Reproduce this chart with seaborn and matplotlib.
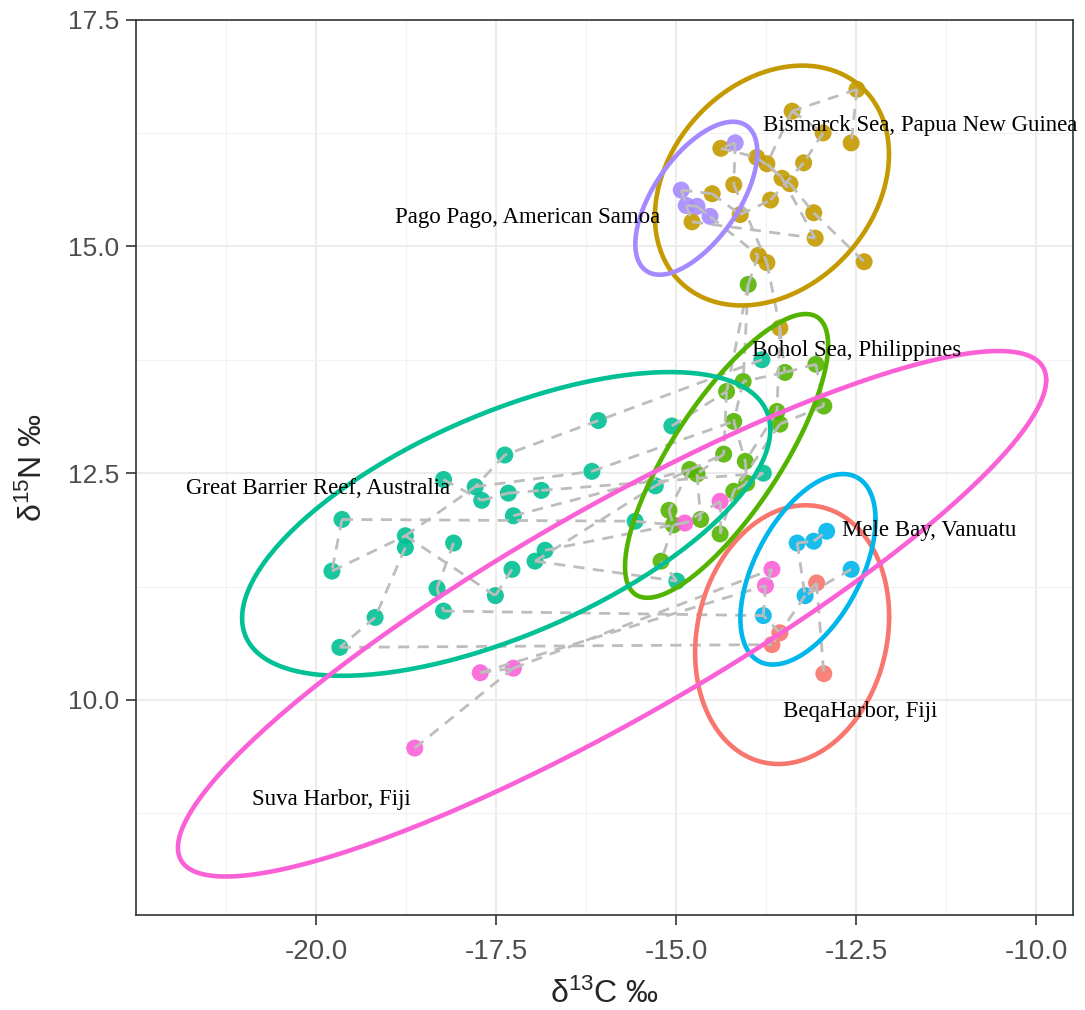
import numpy as np
import pandas as pd
import matplotlib
matplotlib.use("Agg")
import matplotlib.pyplot as plt
from matplotlib.ticker import MultipleLocator, FixedLocator, FormatStrFormatter
import seaborn as sns

# ---------------------------------------------------------------- data
sites = ["BeqaHarbor, Fiji", "Bismarck Sea, Papua New Guinea",
         "Bohol Sea, Philippines", "Great Barrier Reef, Australia",
         "Mele Bay, Vanuatu", "Pago Pago, American Samoa", "Suva Harbor, Fiji"]
site_codes = ["R", "G", "B", "T", "M", "P", "S"]
palette = ["#F8766D", "#C49A00", "#53B400", "#00C094",
           "#00B6EB", "#A58AFF", "#FB61D7"]

beqa_c13 = [-13.05, -13.56, -13.67, -12.95]
beqa_n15 = [11.29, 10.74, 10.61, 10.29]

bismarck_c13 = [-12.49, -13.39, -12.96, -12.57, -14.38, -13.88, -13.74,
                -13.23, -13.53, -13.42, -14.20, -14.50, -13.69, -13.09,
                -14.11, -14.78, -13.07, -13.86, -13.74, -12.39, -13.56]
bismarck_n15 = [16.73, 16.49, 16.25, 16.14, 16.08, 15.98, 15.91,
                15.92, 15.75, 15.69, 15.68, 15.58, 15.51, 15.37,
                15.35, 15.27, 15.09, 14.90, 14.82, 14.83, 14.10]

bohol_c13 = [-14.00, -13.06, -13.49, -14.07, -14.30, -12.95, -13.60,
             -13.56, -14.20, -14.34, -14.04, -14.81, -14.71, -14.02,
             -14.20, -15.10, -15.04, -14.66, -14.39, -15.21]
bohol_n15 = [14.58, 13.70, 13.61, 13.51, 13.40, 13.24, 13.18,
             13.04, 13.07, 12.71, 12.63, 12.54, 12.49, 12.39,
             12.30, 12.09, 11.93, 11.99, 11.83, 11.53]

gbr_c13 = [-13.81, -16.08, -15.06, -16.17, -15.29, -13.79, -15.57,
           -14.99, -17.38, -18.23, -17.79, -17.70, -17.33, -16.87,
           -19.64, -17.26, -18.76, -18.76, -18.09, -16.82, -16.96,
           -17.28, -19.78, -18.32, -17.51, -19.18, -18.23, -19.67]
gbr_n15 = [13.75, 13.08, 13.02, 12.52, 12.36, 12.50, 11.97,
           11.31, 12.70, 12.43, 12.35, 12.20, 12.28, 12.31,
           11.99, 12.03, 11.81, 11.68, 11.73, 11.65, 11.53,
           11.44, 11.42, 11.23, 11.15, 10.91, 10.98, 10.58]

mele_c13 = [-13.32, -13.09, -12.91, -12.57, -13.21, -13.79]
mele_n15 = [11.73, 11.75, 11.86, 11.44, 11.15, 10.93]

pago_c13 = [-14.18, -14.93, -14.86, -14.71, -14.53]
pago_n15 = [16.14, 15.62, 15.45, 15.44, 15.33]

suva_c13 = [-18.63, -17.72, -17.26, -14.39, -14.88, -13.67, -13.76]
suva_n15 = [9.47, 10.30, 10.35, 12.19, 11.95, 11.44, 11.26]

site_c13 = [beqa_c13, bismarck_c13, bohol_c13, gbr_c13, mele_c13, pago_c13, suva_c13]
site_n15 = [beqa_n15, bismarck_n15, bohol_n15, gbr_n15, mele_n15, pago_n15, suva_n15]

# pairs of samples joined by dashed connectors
links = [
    ("P1", "G5"), ("P1", "G11"), ("P2", "P3"), ("P3", "P4"), ("P4", "P5"),
    ("P2", "G12"), ("P5", "G18"), ("P3", "G16"), ("G5", "G6"), ("G6", "G10"),
    ("G2", "G3"), ("G2", "G7"), ("G1", "G4"), ("G1", "G2"), ("G3", "G8"),
    ("G8", "G13"), ("G9", "G17"), ("G10", "G14"), ("G14", "G20"),
    ("G11", "G19"), ("G12", "G15"), ("G15", "G13"), ("G16", "G17"),
    ("G7", "G9"),
    ("G18", "B1"), ("G19", "G21"), ("B1", "B5"), ("B1", "B4"), ("G21", "B3"),
    ("G21", "B7"),
    ("B2", "B3"), ("B3", "B4"), ("B6", "B8"), ("B5", "B10"), ("B4", "B9"),
    ("B9", "B11"), ("B10", "B13"), ("B12", "B16"), ("B13", "B18"),
    ("B14", "B15"), ("B15", "B19"), ("B16", "B17"), ("B17", "B20"),
    ("B11", "B14"), ("B7", "B11"), ("B8", "B15"), ("B2", "B6"),
    ("T1", "T2"), ("T2", "T9"), ("T9", "T11"), ("T11", "T4"), ("T10", "T12"),
    ("T12", "T13"), ("T13", "T14"), ("T15", "T23"), ("T15", "T7"),
    ("T23", "T17"), ("T18", "T26"), ("T26", "T28"), ("T17", "T11"),
    ("T17", "T25"), ("T19", "T24"), ("T22", "T25"), ("T21", "T5"),
    ("T16", "B12"), ("T20", "B18"), ("T21", "T8"), ("T3", "B5"),
    ("T5", "B10"), ("T6", "B14"), ("T7", "B17"), ("T8", "B20"),
    ("T24", "T27"), ("T14", "T6"), ("T4", "B9"),
    ("S1", "S3"), ("S2", "S3"), ("S3", "S6"), ("S2", "S7"), ("S6", "S7"),
    ("S4", "S5"), ("S4", "B19"), ("S5", "B17"), ("S7", "M6"), ("T28", "R3"),
    ("T27", "M6"), ("M1", "M2"), ("M2", "M3"), ("M1", "M5"), ("M4", "M5"),
    ("R1", "M5"), ("R1", "R4"), ("R2", "R3"), ("R2", "M6"), ("M5", "R2"),
]

# 95% ellipse per site: centre, half-extent along each axis, correlation
ell_cx = [-13.39, -13.67, -14.30, -17.36, -13.17, -14.72, -15.89]
ell_cy = [10.72, 15.67, 12.69, 11.94, 11.44, 15.53, 10.95]
ell_hx = [1.347, 1.625, 1.410, 3.667, 0.938, 0.847, 6.028]
ell_hy = [1.426, 1.322, 1.564, 1.674, 1.050, 0.843, 2.896]
ell_r = [0.14, 0.26, 0.78, 0.62, 0.52, 0.60, 0.89]

# site name annotations (centre of each label)
label_x = [-12.44, -11.61, -12.50, -19.97, -11.49, -17.06, -19.79]
label_y = [9.87, 16.33, 13.85, 12.33, 11.87, 15.32, 8.90]

x_ticks = [-20.0, -17.5, -15.0, -12.5, -10.0]
y_ticks = [10.0, 12.5, 15.0, 17.5]

# ---------------------------------------------------------------- frames
rows = []
for site, code, xs, ys in zip(sites, site_codes, site_c13, site_n15):
    for i, (x, y) in enumerate(zip(xs, ys), start=1):
        rows.append({"site": site, "id": f"{code}{i}", "d13C": x, "d15N": y})
pts = pd.DataFrame(rows)
lookup = pts.set_index("id")

seg_rows = []
for k, (a, b) in enumerate(links):
    for p in (a, b):
        seg_rows.append({"link": k, "d13C": lookup.loc[p, "d13C"],
                         "d15N": lookup.loc[p, "d15N"]})
segs = pd.DataFrame(seg_rows)

t = np.linspace(0, 2 * np.pi, 240)
ell_rows = []
for site, cx, cy, hx, hy, r in zip(sites, ell_cx, ell_cy, ell_hx, ell_hy, ell_r):
    ex = cx + hx * np.cos(t)
    ey = cy + r * hy * np.cos(t) + hy * np.sqrt(1 - r ** 2) * np.sin(t)
    ell_rows.append(pd.DataFrame({"site": site, "d13C": ex, "d15N": ey}))
ells = pd.concat(ell_rows, ignore_index=True)

# ---------------------------------------------------------------- plot
sns.set_theme(style="white")
plt.rcParams["font.family"] = ["Liberation Sans", "DejaVu Sans"]
plt.rcParams["mathtext.default"] = "regular"

fig = plt.figure(figsize=(10.85, 10.10), dpi=100)
ax = fig.add_axes([136 / 1085, 95 / 1010, 937 / 1085, 895.5 / 1010])

pal = dict(zip(sites, palette))

sns.scatterplot(data=pts, x="d13C", y="d15N", hue="site", palette=pal,
                s=150, alpha=0.9, linewidth=0, legend=False, ax=ax, zorder=3)
sns.lineplot(data=segs, x="d13C", y="d15N", units="link", estimator=None,
             sort=False, color="#BDBDBD", linewidth=2.0,
             linestyle=(0, (4, 3)), legend=False, ax=ax, zorder=4)
sns.lineplot(data=ells, x="d13C", y="d15N", hue="site", units="site",
             estimator=None, sort=False, palette=pal, linewidth=3.3,
             legend=False, ax=ax, zorder=5)

for name, x, y in zip(sites, label_x, label_y):
    ax.text(x, y, name, ha="center", va="center", fontsize=16.5,
            family=["Liberation Serif", "DejaVu Serif"], color="black", zorder=6)

ax.set_xlim(-22.5, -9.49)
ax.set_ylim(7.63, 17.5)
ax.xaxis.set_major_locator(FixedLocator(x_ticks))
ax.yaxis.set_major_locator(FixedLocator(y_ticks))
ax.xaxis.set_minor_locator(FixedLocator([-21.25, -18.75, -16.25, -13.75, -11.25]))
ax.yaxis.set_minor_locator(FixedLocator([8.75, 11.25, 13.75, 16.25]))
ax.xaxis.set_major_formatter(FormatStrFormatter("%.1f"))
ax.yaxis.set_major_formatter(FormatStrFormatter("%.1f"))

ax.set_axisbelow(True)
ax.grid(which="major", color="#EBEBEB", linewidth=1.3)
ax.grid(which="minor", color="#F2F2F2", linewidth=0.8)
for sp in ax.spines.values():
    sp.set_color("#333333")
    sp.set_linewidth(1.2)
ax.tick_params(which="major", direction="out", length=7, width=1.2,
               color="#333333", labelsize=19, labelcolor="#4D4D4D",
               bottom=True, left=True)
ax.tick_params(axis="x", which="major", labelsize=20, pad=10)
ax.tick_params(axis="y", which="major", pad=5)
ax.tick_params(which="minor", length=0)

ax.set_xlabel("δ$^{13}$C ‰", fontsize=23, labelpad=10)
ax.set_ylabel("δ$^{15}$N ‰", fontsize=23, labelpad=14)

fig.savefig("out.png", dpi=100)
